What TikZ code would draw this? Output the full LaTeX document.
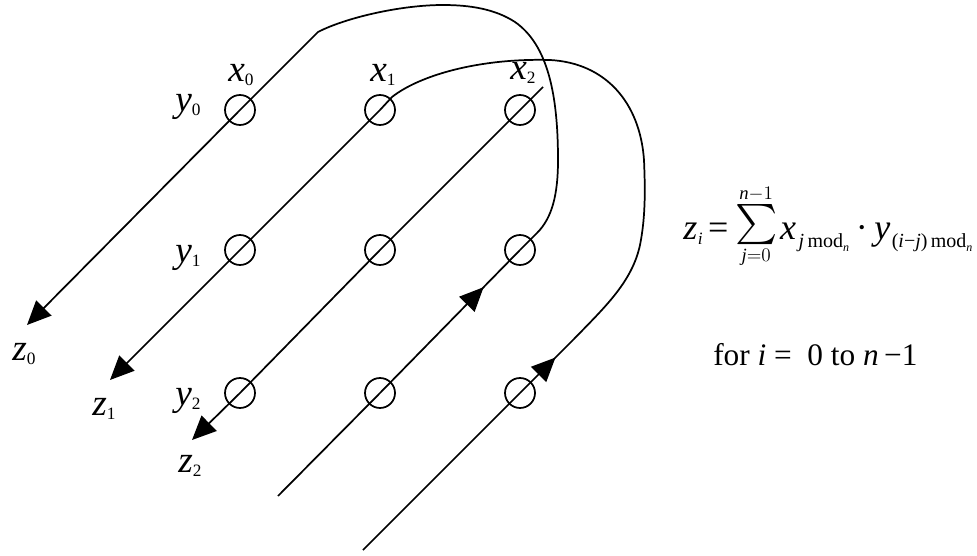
\documentclass[tikz,border=0pt]{standalone}
\usepackage{amsmath}
\usepackage{graphicx}
\usepackage{fontspec}
\setmainfont{Liberation Serif}
\usetikzlibrary{arrows.meta,decorations.markings}
\newcommand\mi[1]{\textit{#1}}
\newcommand\sub[1]{\raisebox{-3pt}{\fontsize{13}{13}\selectfont #1}}
\newcommand\fsub[1]{\raisebox{-6pt}{\fontsize{15}{15}\selectfont #1}}
\newcommand\nsub{\raisebox{-3pt}{\fontsize{9}{9}\selectfont\mi{n}}}
\newcommand\bigsum{\mathop{\vcenter{\hbox{\scalebox{1.45}{$\sum$}}}}}
\tikzset{
  ring/.style={circle,draw,line width=1.3pt,minimum size=22.5pt,inner sep=0pt},
  wire/.style={line width=1.3pt},
  bigtip/.tip={Triangle[length=18pt,width=16pt]},
  endarrow/.style={wire,-bigtip},
  midarrow/.style={wire,postaction={decorate},decoration={markings,mark=at position #1 with {\arrow{bigtip}}}},
  lbl/.style={anchor=base west,inner sep=0pt,font=\fontsize{28}{30}\selectfont},
  eq/.style={anchor=base west,inner sep=0pt,font=\fontsize{27}{30}\selectfont},
  txt/.style={anchor=base west,inner sep=0pt,font=\fontsize{23.5}{26}\selectfont}
}
\begin{document}
\begin{tikzpicture}[x=0.75pt,y=-0.75pt]
\useasboundingbox (0,0) rectangle (977,556);
% rings
\node[ring] (c00) at (240,110) {};
\node[ring] (c01) at (380,110) {};
\node[ring] (c02) at (520,110) {};
\node[ring] (c10) at (240,250) {};
\node[ring] (c11) at (380,250) {};
\node[ring] (c12) at (520,250) {};
\node[ring] (c20) at (240,393) {};
\node[ring] (c21) at (380,393) {};
\node[ring] (c22) at (520,393) {};
% free ends
\coordinate (a0) at (318,32);
\coordinate (za) at (27,325);
\coordinate (b0) at (392,97);
\coordinate (zb) at (110,380);
\coordinate (c0) at (543,87);
\coordinate (zc) at (192,440);
\coordinate (d0) at (278,496);
\coordinate (d1) at (537,233);
\coordinate (e0) at (363,550);
\coordinate (e1) at (573,340);
% line C
\draw[endarrow] (c0) -- (c02.center) -- (c11.center) -- (c20.center) -- (zc);
% path D -> curve -> line A
\draw[wire] (d0) -- (c21.center);
\draw[midarrow=0.74] (c21.center) -- (c12.center);
\draw[endarrow] (c12.center) -- (d1) .. controls (552,218) and (558,195) .. (558,160)
  .. controls (558,95) and (548,45) .. (515,22)
  .. controls (495,9) and (470,5) .. (443,5)
  .. controls (400,5) and (345,18) .. (a0) -- (c00.center) -- (za);
% path E -> curve -> line B
\draw[wire] (e0) -- (c22.center);
\draw[midarrow=0.67] (c22.center) -- (e1);
\draw[endarrow] (e1) .. controls (605,307) and (632,282) .. (640,245)
  .. controls (646,215) and (645,185) .. (644,160)
  .. controls (640,103) and (606,63) .. (550,60)
  .. controls (480,58) and (420,75) .. (b0) -- (c01.center) -- (c10.center) -- (zb);
% labels
\node[lbl] (lx0) at (228,82) {\mi{x}\sub{0}};
\node[lbl] (lx1) at (370,82) {\mi{x}\sub{1}};
\node[lbl] (lx2) at (510,80) {\mi{x}\sub{2}};
\node[lbl] (ly0) at (175,112) {\mi{y}\sub{0}};
\node[lbl] (ly1) at (175,262) {\mi{y}\sub{1}};
\node[lbl] (ly2) at (175,405) {\mi{y}\sub{2}};
\node[lbl] (lz0) at (12,360) {\mi{z}\sub{0}};
\node[lbl] (lz1) at (92,415) {\mi{z}\sub{1}};
\node[lbl] (lz2) at (178,472) {\mi{z}\sub{2}};
% formula
\node[eq] (formula) at (683,239) {\mi{z}\kern0.5pt\raisebox{-4pt}{\fontsize{13}{13}\selectfont\mi{i}}\kern4pt=\kern5pt\raisebox{5.5pt}{\fontsize{20}{22}\selectfont$\bigsum\limits_{\mi{j}=0}^{\mi{n}-1}$}\kern2pt\mi{x}\kern2pt\fsub{\mi{j}\,mod\nsub}\kern5pt·\kern5pt\mi{y}\kern1pt\fsub{(\mi{i}\textminus\mi{j})\,mod\nsub}};
\node[txt] (range) at (713,365) {for \mi{i} = \ 0 to \mi{n}\,\textminus 1};
\end{tikzpicture}
\end{document}
